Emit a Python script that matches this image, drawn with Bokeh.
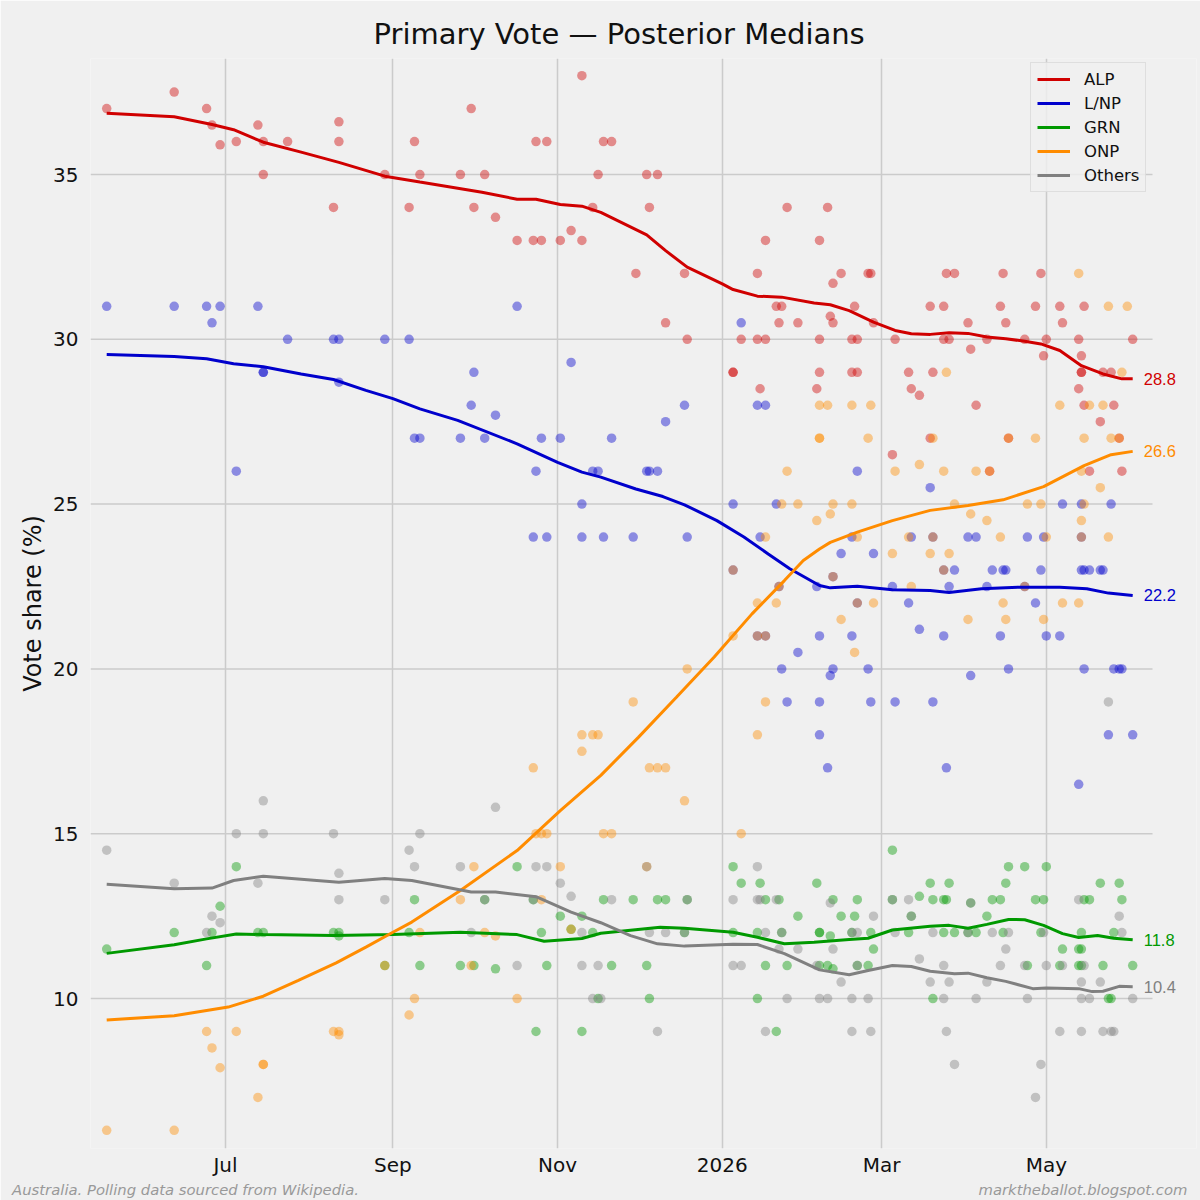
import pandas as pd
from bokeh.plotting import figure
from bokeh.models import Range1d, FixedTicker, ColumnDataSource, LinearAxis
from bokeh.core.properties import value
from bokeh.embed import file_html
from bokeh.resources import INLINE

# ---------------- data ----------------
parties = ["ALP", "L/NP", "GRN", "ONP", "Others"]
line_colors = ["#d00000", "#0000cc", "#009900", "#ff8c00", "#808080"]

tick_dates = ["2025-07-01", "2025-09-01", "2025-11-01", "2026-01-01", "2026-03-01", "2026-05-01"]
tick_labels = ["Jul", "Sep", "Nov", "2026", "Mar", "May"]
y_ticks = [10, 15, 20, 25, 30, 35]

footer_left = "Australia. Polling data sourced from Wikipedia."
footer_right = "marktheballot.blogspot.com"

# posterior median lines (date, value)
alp_line = [("2025-05-18", 36.86), ("2025-06-12", 36.75), ("2025-06-26", 36.52), ("2025-07-04", 36.36),
            ("2025-07-15", 35.98), ("2025-07-29", 35.68), ("2025-08-12", 35.37), ("2025-08-29", 34.95),
            ("2025-09-11", 34.77), ("2025-10-04", 34.46), ("2025-10-17", 34.25), ("2025-10-24", 34.25),
            ("2025-11-02", 34.09), ("2025-11-10", 34.04), ("2025-11-17", 33.85), ("2025-12-04", 33.17),
            ("2025-12-11", 32.69), ("2025-12-19", 32.19), ("2026-01-01", 31.68), ("2026-01-05", 31.51),
            ("2026-01-14", 31.31), ("2026-01-23", 31.28), ("2026-02-04", 31.10), ("2026-02-10", 31.05),
            ("2026-02-17", 30.87), ("2026-02-26", 30.52), ("2026-03-06", 30.27), ("2026-03-12", 30.17),
            ("2026-03-19", 30.15), ("2026-03-26", 30.20), ("2026-04-02", 30.18), ("2026-04-09", 30.07),
            ("2026-04-16", 30.02), ("2026-04-23", 29.94), ("2026-04-29", 29.86), ("2026-05-06", 29.66),
            ("2026-05-14", 29.20), ("2026-05-22", 28.95), ("2026-05-29", 28.80), ("2026-06-02", 28.80)]
lnp_line = [("2025-05-18", 29.54), ("2025-06-12", 29.48), ("2025-06-24", 29.41), ("2025-07-04", 29.26),
            ("2025-07-15", 29.17), ("2025-07-29", 28.95), ("2025-08-10", 28.78), ("2025-08-22", 28.45),
            ("2025-09-01", 28.20), ("2025-09-11", 27.89), ("2025-09-25", 27.54), ("2025-10-17", 26.83),
            ("2025-11-01", 26.27), ("2025-11-10", 25.97), ("2025-11-17", 25.82), ("2025-11-30", 25.46),
            ("2025-12-10", 25.23), ("2025-12-18", 24.98), ("2025-12-30", 24.50), ("2026-01-09", 24.00),
            ("2026-01-18", 23.49), ("2026-01-26", 23.04), ("2026-02-06", 22.53), ("2026-02-10", 22.46),
            ("2026-02-20", 22.51), ("2026-03-05", 22.40), ("2026-03-19", 22.38), ("2026-03-26", 22.32),
            ("2026-04-07", 22.43), ("2026-04-21", 22.48), ("2026-05-06", 22.48), ("2026-05-16", 22.43),
            ("2026-05-24", 22.30), ("2026-06-02", 22.23)]
grn_line = [("2025-05-18", 11.37), ("2025-06-12", 11.63), ("2025-06-24", 11.81), ("2025-07-05", 11.96),
            ("2025-07-15", 11.94), ("2025-08-10", 11.91), ("2025-09-01", 11.94), ("2025-09-26", 12.01),
            ("2025-10-17", 11.94), ("2025-10-27", 11.74), ("2025-11-10", 11.82), ("2025-11-17", 11.98),
            ("2025-12-09", 12.16), ("2025-12-18", 12.13), ("2026-01-05", 12.01), ("2026-01-14", 11.86),
            ("2026-01-24", 11.66), ("2026-02-04", 11.71), ("2026-02-17", 11.79), ("2026-02-24", 11.83),
            ("2026-03-05", 12.08), ("2026-03-19", 12.19), ("2026-03-26", 12.22), ("2026-04-02", 12.13),
            ("2026-04-09", 12.25), ("2026-04-17", 12.40), ("2026-04-23", 12.39), ("2026-04-30", 12.22),
            ("2026-05-07", 11.97), ("2026-05-13", 11.85), ("2026-05-20", 11.91), ("2026-05-26", 11.83),
            ("2026-06-02", 11.78)]
onp_line = [("2025-05-18", 9.35), ("2025-06-12", 9.48), ("2025-07-02", 9.74), ("2025-07-15", 10.07),
            ("2025-07-28", 10.55), ("2025-08-11", 11.08), ("2025-08-22", 11.56), ("2025-09-01", 12.01),
            ("2025-09-08", 12.32), ("2025-09-26", 13.28), ("2025-10-17", 14.49), ("2025-11-02", 15.70),
            ("2025-11-17", 16.77), ("2025-12-01", 17.93), ("2025-12-15", 19.14), ("2025-12-29", 20.36),
            ("2026-01-12", 21.67), ("2026-01-24", 22.68), ("2026-01-31", 23.29), ("2026-02-06", 23.64),
            ("2026-02-10", 23.84), ("2026-02-20", 24.15), ("2026-03-05", 24.50), ("2026-03-19", 24.81),
            ("2026-04-02", 24.96), ("2026-04-15", 25.13), ("2026-04-30", 25.53), ("2026-05-15", 26.17),
            ("2026-05-25", 26.50), ("2026-06-02", 26.60)]
oth_line = [("2025-05-18", 13.47), ("2025-06-12", 13.33), ("2025-06-26", 13.35), ("2025-07-04", 13.58),
            ("2025-07-15", 13.71), ("2025-08-12", 13.53), ("2025-08-29", 13.64), ("2025-09-08", 13.58),
            ("2025-09-30", 13.23), ("2025-10-09", 13.23), ("2025-10-24", 13.09), ("2025-11-06", 12.62),
            ("2025-11-17", 12.30), ("2025-11-28", 11.91), ("2025-12-08", 11.66), ("2025-12-18", 11.59),
            ("2026-01-05", 11.65), ("2026-01-14", 11.64), ("2026-01-24", 11.36), ("2026-02-06", 10.87),
            ("2026-02-17", 10.72), ("2026-02-24", 10.85), ("2026-03-05", 11.00), ("2026-03-12", 10.97),
            ("2026-03-19", 10.83), ("2026-03-28", 10.75), ("2026-04-02", 10.77), ("2026-04-09", 10.63),
            ("2026-04-16", 10.52), ("2026-04-26", 10.30), ("2026-05-01", 10.32), ("2026-05-13", 10.30),
            ("2026-05-18", 10.21), ("2026-05-22", 10.22), ("2026-05-28", 10.37), ("2026-06-02", 10.36)]

# individual polls (date, value)
alp_polls = [("2025-05-18", 37.0), ("2025-06-12", 37.5), ("2025-06-24", 37.0), ("2025-06-26", 36.5),
    ("2025-06-29", 35.9), ("2025-07-05", 36.0), ("2025-07-13", 36.5), ("2025-07-15", 36.0), ("2025-07-15", 35.0),
    ("2025-07-24", 36.0), ("2025-08-10", 34.0), ("2025-08-12", 36.6), ("2025-08-12", 36.0), ("2025-08-29", 35.0),
    ("2025-09-07", 34.0), ("2025-09-09", 36.0), ("2025-09-11", 35.0), ("2025-09-26", 35.0), ("2025-09-30", 37.0),
    ("2025-10-01", 34.0), ("2025-10-05", 35.0), ("2025-10-09", 33.7), ("2025-10-17", 33.0), ("2025-10-23", 33.0),
    ("2025-10-24", 36.0), ("2025-10-26", 33.0), ("2025-10-28", 36.0), ("2025-11-02", 33.0), ("2025-11-06", 33.3),
    ("2025-11-10", 38.0), ("2025-11-10", 33.0), ("2025-11-14", 34.0), ("2025-11-16", 35.0), ("2025-11-18", 36.0),
    ("2025-11-21", 36.0), ("2025-11-30", 32.0), ("2025-12-04", 35.0), ("2025-12-05", 34.0), ("2025-12-08", 35.0),
    ("2025-12-11", 30.5), ("2025-12-18", 32.0), ("2025-12-19", 30.0), ("2026-01-05", 29.0), ("2026-01-05", 29.0),
    ("2026-01-08", 30.0), ("2026-01-14", 32.0), ("2026-01-14", 30.0), ("2026-01-15", 28.5), ("2026-01-17", 33.0),
    ("2026-01-17", 30.0), ("2026-01-21", 31.0), ("2026-01-22", 30.5), ("2026-01-23", 31.0), ("2026-01-25", 34.0),
    ("2026-01-29", 30.5), ("2026-02-05", 28.5), ("2026-02-06", 33.0), ("2026-02-06", 30.0), ("2026-02-06", 29.0),
    ("2026-02-09", 34.0), ("2026-02-10", 30.7), ("2026-02-11", 31.7), ("2026-02-11", 30.5), ("2026-02-14", 32.0),
    ("2026-02-18", 30.0), ("2026-02-18", 29.0), ("2026-02-19", 31.0), ("2026-02-20", 30.0), ("2026-02-20", 29.0),
    ("2026-02-24", 32.0), ("2026-02-25", 32.0), ("2026-02-26", 30.5), ("2026-03-05", 26.5), ("2026-03-06", 30.0),
    ("2026-03-11", 29.0), ("2026-03-12", 28.5), ("2026-03-15", 28.3), ("2026-03-19", 31.0), ("2026-03-19", 27.0),
    ("2026-03-20", 29.0), ("2026-03-24", 31.0), ("2026-03-24", 30.0), ("2026-03-25", 32.0), ("2026-03-26", 30.0),
    ("2026-03-28", 32.0), ("2026-04-02", 30.5), ("2026-04-03", 29.7), ("2026-04-05", 28.0), ("2026-04-09", 30.0),
    ("2026-04-10", 26.0), ("2026-04-14", 31.0), ("2026-04-15", 32.0), ("2026-04-16", 30.5), ("2026-04-17", 27.0),
    ("2026-04-23", 30.0), ("2026-04-27", 31.0), ("2026-04-29", 32.0), ("2026-04-30", 29.5), ("2026-05-01", 30.0),
    ("2026-05-06", 31.0), ("2026-05-07", 30.5), ("2026-05-13", 30.0), ("2026-05-13", 28.5), ("2026-05-14", 29.5),
    ("2026-05-14", 29.0), ("2026-05-14", 29.0), ("2026-05-15", 31.0), ("2026-05-15", 28.0), ("2026-05-17", 26.0),
    ("2026-05-21", 27.5), ("2026-05-22", 29.0), ("2026-05-25", 29.0), ("2026-05-26", 28.0), ("2026-05-28", 27.0),
    ("2026-05-29", 26.0), ("2026-06-02", 30.0)]
lnp_polls = [("2025-05-18", 31.0), ("2025-06-12", 31.0), ("2025-06-24", 31.0), ("2025-06-26", 30.5),
    ("2025-06-29", 31.0), ("2025-07-05", 26.0), ("2025-07-13", 31.0), ("2025-07-15", 29.0), ("2025-07-15", 29.0),
    ("2025-07-24", 30.0), ("2025-08-10", 30.0), ("2025-08-12", 30.0), ("2025-08-12", 28.7), ("2025-08-29", 30.0),
    ("2025-09-07", 30.0), ("2025-09-09", 27.0), ("2025-09-11", 27.0), ("2025-09-26", 27.0), ("2025-09-30", 28.0),
    ("2025-10-01", 29.0), ("2025-10-05", 27.0), ("2025-10-09", 27.7), ("2025-10-17", 31.0), ("2025-10-23", 24.0),
    ("2025-10-24", 26.0), ("2025-10-26", 27.0), ("2025-10-28", 24.0), ("2025-11-02", 27.0), ("2025-11-06", 29.3),
    ("2025-11-10", 25.0), ("2025-11-10", 24.0), ("2025-11-14", 26.0), ("2025-11-16", 26.0), ("2025-11-18", 24.0),
    ("2025-11-21", 27.0), ("2025-11-29", 24.0), ("2025-12-04", 26.0), ("2025-12-05", 26.0), ("2025-12-08", 26.0),
    ("2025-12-11", 27.5), ("2025-12-18", 28.0), ("2025-12-19", 24.0), ("2026-01-05", 25.0), ("2026-01-05", 23.0),
    ("2026-01-08", 30.5), ("2026-01-14", 28.0), ("2026-01-14", 21.0), ("2026-01-15", 24.0), ("2026-01-17", 28.0),
    ("2026-01-17", 21.0), ("2026-01-21", 25.0), ("2026-01-22", 22.5), ("2026-01-23", 20.0), ("2026-01-25", 19.0),
    ("2026-01-29", 20.5), ("2026-02-05", 22.5), ("2026-02-06", 21.0), ("2026-02-06", 19.0), ("2026-02-06", 18.0),
    ("2026-02-09", 17.0), ("2026-02-10", 19.8), ("2026-02-11", 20.0), ("2026-02-11", 22.8), ("2026-02-14", 23.5),
    ("2026-02-18", 24.0), ("2026-02-18", 21.0), ("2026-02-20", 26.0), ("2026-02-20", 22.0), ("2026-02-24", 20.0),
    ("2026-02-25", 19.0), ("2026-02-26", 23.5), ("2026-03-05", 22.5), ("2026-03-06", 19.0), ("2026-03-11", 22.0),
    ("2026-03-12", 24.0), ("2026-03-15", 21.2), ("2026-03-19", 25.5), ("2026-03-20", 24.0), ("2026-03-20", 19.0),
    ("2026-03-24", 23.0), ("2026-03-24", 21.0), ("2026-03-25", 17.0), ("2026-03-26", 22.5), ("2026-03-28", 23.0),
    ("2026-04-02", 24.0), ("2026-04-03", 19.8), ("2026-04-05", 24.0), ("2026-04-09", 22.5), ("2026-04-11", 23.0),
    ("2026-04-14", 21.0), ("2026-04-15", 23.0), ("2026-04-16", 23.0), ("2026-04-17", 20.0), ("2026-04-23", 22.5),
    ("2026-04-24", 24.0), ("2026-04-27", 22.0), ("2026-04-29", 23.0), ("2026-04-30", 24.0), ("2026-05-01", 21.0),
    ("2026-05-06", 21.0), ("2026-05-07", 25.0), ("2026-05-14", 24.0), ("2026-05-13", 16.5), ("2026-05-14", 25.0),
    ("2026-05-14", 23.0), ("2026-05-15", 23.0), ("2026-05-15", 20.0), ("2026-05-17", 23.0), ("2026-05-21", 23.0),
    ("2026-05-22", 23.0), ("2026-05-24", 18.0), ("2026-05-25", 25.0), ("2026-05-26", 20.0), ("2026-05-28", 20.0),
    ("2026-05-29", 20.0), ("2026-06-02", 18.0)]
grn_polls = [("2025-05-18", 11.5), ("2025-06-12", 12.0), ("2025-06-24", 11.0), ("2025-06-26", 12.0),
    ("2025-06-29", 12.8), ("2025-07-05", 14.0), ("2025-07-13", 12.0), ("2025-07-15", 12.0), ("2025-08-10", 12.0),
    ("2025-08-12", 12.0), ("2025-08-12", 11.9), ("2025-08-29", 11.0), ("2025-09-07", 12.0), ("2025-09-09", 13.0),
    ("2025-09-11", 11.0), ("2025-09-26", 11.0), ("2025-10-01", 11.0), ("2025-10-05", 13.0), ("2025-10-09", 10.9),
    ("2025-10-17", 14.0), ("2025-10-23", 13.0), ("2025-10-24", 9.0), ("2025-10-26", 12.0), ("2025-10-28", 11.0),
    ("2025-11-02", 12.5), ("2025-11-06", 12.1), ("2025-11-10", 12.5), ("2025-11-10", 9.0), ("2025-11-14", 12.0),
    ("2025-11-16", 10.0), ("2025-11-18", 13.0), ("2025-11-21", 11.0), ("2025-11-29", 13.0), ("2025-12-04", 11.0),
    ("2025-12-05", 10.0), ("2025-12-08", 13.0), ("2025-12-11", 13.0), ("2025-12-18", 12.0), ("2025-12-19", 13.0),
    ("2026-01-05", 14.0), ("2026-01-05", 12.0), ("2026-01-08", 13.5), ("2026-01-14", 12.0), ("2026-01-14", 10.0),
    ("2026-01-15", 13.5), ("2026-01-17", 13.0), ("2026-01-17", 11.0), ("2026-01-21", 9.0), ("2026-01-22", 13.0),
    ("2026-01-23", 12.0), ("2026-01-25", 11.0), ("2026-01-29", 12.5), ("2026-02-05", 13.5), ("2026-02-06", 12.0),
    ("2026-02-06", 12.0), ("2026-02-06", 11.0), ("2026-02-09", 11.0), ("2026-02-10", 11.9), ("2026-02-11", 13.0),
    ("2026-02-11", 10.9), ("2026-02-14", 12.5), ("2026-02-18", 12.0), ("2026-02-19", 12.5), ("2026-02-20", 13.0),
    ("2026-02-20", 11.0), ("2026-02-24", 11.0), ("2026-02-25", 12.0), ("2026-02-26", 11.5), ("2026-03-05", 14.5),
    ("2026-03-05", 13.0), ("2026-03-11", 12.0), ("2026-03-12", 12.5), ("2026-03-15", 13.1), ("2026-03-19", 13.5),
    ("2026-03-20", 13.0), ("2026-03-20", 10.0), ("2026-03-24", 13.0), ("2026-03-24", 12.0), ("2026-03-25", 13.0),
    ("2026-03-26", 13.5), ("2026-03-28", 12.0), ("2026-04-02", 12.0), ("2026-04-03", 12.9), ("2026-04-05", 12.0),
    ("2026-04-09", 12.5), ("2026-04-11", 13.0), ("2026-04-14", 13.0), ("2026-04-15", 12.0), ("2026-04-16", 13.5),
    ("2026-04-17", 14.0), ("2026-04-23", 14.0), ("2026-04-24", 11.0), ("2026-04-27", 13.0), ("2026-04-29", 12.0),
    ("2026-04-30", 13.0), ("2026-05-01", 14.0), ("2026-05-06", 11.0), ("2026-05-07", 11.5), ("2026-05-13", 11.5),
    ("2026-05-13", 11.0), ("2026-05-14", 11.5), ("2026-05-14", 11.0), ("2026-05-14", 12.0), ("2026-05-15", 13.0),
    ("2026-05-17", 13.0), ("2026-05-21", 13.5), ("2026-05-22", 11.0), ("2026-05-24", 10.0), ("2026-05-25", 10.0),
    ("2026-05-26", 12.0), ("2026-05-28", 13.5), ("2026-05-29", 13.0), ("2026-06-02", 11.0)]
onp_polls = [("2025-05-18", 6.0), ("2025-06-12", 6.0), ("2025-06-24", 9.0), ("2025-06-26", 8.5),
    ("2025-06-29", 7.9), ("2025-07-05", 9.0), ("2025-07-13", 7.0), ("2025-07-15", 8.0), ("2025-07-15", 8.0),
    ("2025-08-10", 9.0), ("2025-08-12", 9.0), ("2025-08-12", 8.9), ("2025-08-29", 11.0), ("2025-09-07", 9.5),
    ("2025-09-09", 10.0), ("2025-09-11", 12.0), ("2025-09-26", 13.0), ("2025-09-30", 11.0), ("2025-10-01", 14.0),
    ("2025-10-05", 12.0), ("2025-10-09", 11.9), ("2025-10-17", 10.0), ("2025-10-23", 17.0), ("2025-10-24", 15.0),
    ("2025-10-26", 15.0), ("2025-10-26", 13.0), ("2025-10-28", 15.0), ("2025-11-02", 14.0), ("2025-11-06", 12.1),
    ("2025-11-10", 18.0), ("2025-11-10", 17.5), ("2025-11-14", 18.0), ("2025-11-16", 18.0), ("2025-11-18", 15.0),
    ("2025-11-21", 15.0), ("2025-11-29", 19.0), ("2025-12-04", 14.0), ("2025-12-05", 17.0), ("2025-12-08", 17.0),
    ("2025-12-11", 17.0), ("2025-12-18", 16.0), ("2025-12-19", 20.0), ("2026-01-05", 21.0), ("2026-01-05", 23.0),
    ("2026-01-08", 15.0), ("2026-01-14", 22.0), ("2026-01-14", 18.0), ("2026-01-14", 21.0), ("2026-01-17", 24.0),
    ("2026-01-17", 19.0), ("2026-01-17", 21.0), ("2026-01-21", 22.0), ("2026-01-22", 22.5), ("2026-01-23", 25.0),
    ("2026-01-25", 26.0), ("2026-01-29", 25.0), ("2026-02-05", 24.5), ("2026-02-06", 28.0), ("2026-02-06", 27.0),
    ("2026-02-06", 27.0), ("2026-02-09", 28.0), ("2026-02-10", 24.7), ("2026-02-11", 25.0), ("2026-02-11", 22.8),
    ("2026-02-14", 21.5), ("2026-02-18", 28.0), ("2026-02-18", 25.0), ("2026-02-19", 20.5), ("2026-02-20", 24.0),
    ("2026-02-20", 22.0), ("2026-02-24", 27.0), ("2026-02-25", 28.0), ("2026-02-26", 22.0), ("2026-03-05", 23.5),
    ("2026-03-06", 26.0), ("2026-03-11", 24.0), ("2026-03-12", 22.5), ("2026-03-15", 26.2), ("2026-03-19", 23.5),
    ("2026-03-20", 27.0), ("2026-03-20", 24.0), ("2026-03-24", 26.0), ("2026-03-24", 23.0), ("2026-03-25", 29.0),
    ("2026-03-26", 23.5), ("2026-03-28", 25.0), ("2026-04-02", 21.5), ("2026-04-03", 24.7), ("2026-04-05", 26.0),
    ("2026-04-09", 24.5), ("2026-04-10", 26.0), ("2026-04-14", 24.0), ("2026-04-15", 22.0), ("2026-04-16", 21.5),
    ("2026-04-17", 27.0), ("2026-04-23", 22.5), ("2026-04-24", 25.0), ("2026-04-27", 27.0), ("2026-04-29", 25.0),
    ("2026-04-30", 21.5), ("2026-05-01", 24.0), ("2026-05-06", 28.0), ("2026-05-07", 22.0), ("2026-05-13", 32.0),
    ("2026-05-13", 22.0), ("2026-05-14", 24.5), ("2026-05-14", 24.0), ("2026-05-14", 26.0), ("2026-05-15", 25.0),
    ("2026-05-15", 27.0), ("2026-05-17", 28.0), ("2026-05-21", 25.5), ("2026-05-22", 28.0), ("2026-05-24", 31.0),
    ("2026-05-24", 24.0), ("2026-05-25", 27.0), ("2026-05-28", 27.0), ("2026-05-29", 29.0), ("2026-05-31", 31.0)]
oth_polls = [("2025-05-18", 14.5), ("2025-06-12", 13.5), ("2025-06-24", 12.0), ("2025-06-26", 12.5),
    ("2025-06-29", 12.3), ("2025-07-05", 15.0), ("2025-07-13", 13.5), ("2025-07-15", 16.0), ("2025-07-15", 15.0),
    ("2025-08-10", 15.0), ("2025-08-12", 13.8), ("2025-08-12", 13.0), ("2025-08-29", 13.0), ("2025-09-07", 14.5),
    ("2025-09-09", 14.0), ("2025-09-11", 15.0), ("2025-09-26", 14.0), ("2025-09-30", 12.0), ("2025-10-05", 13.0),
    ("2025-10-09", 15.8), ("2025-10-17", 11.0), ("2025-10-23", 13.0), ("2025-10-24", 14.0), ("2025-10-28", 14.0),
    ("2025-11-02", 13.5), ("2025-11-06", 13.1), ("2025-11-10", 12.0), ("2025-11-10", 11.0), ("2025-11-14", 10.0),
    ("2025-11-16", 11.0), ("2025-11-17", 10.0), ("2025-11-21", 13.0), ("2025-12-04", 14.0), ("2025-12-05", 12.0),
    ("2025-12-08", 9.0), ("2025-12-11", 12.0), ("2025-12-18", 12.0), ("2025-12-19", 13.0), ("2026-01-05", 13.0),
    ("2026-01-05", 11.0), ("2026-01-08", 11.0), ("2026-01-14", 14.0), ("2026-01-14", 13.0), ("2026-01-15", 13.0),
    ("2026-01-17", 12.0), ("2026-01-17", 9.0), ("2026-01-21", 13.0), ("2026-01-22", 11.5), ("2026-01-23", 12.0),
    ("2026-01-25", 10.0), ("2026-01-29", 11.5), ("2026-02-05", 11.0), ("2026-02-06", 10.0), ("2026-02-09", 10.0),
    ("2026-02-10", 12.9), ("2026-02-11", 11.5), ("2026-02-14", 10.5), ("2026-02-18", 12.0), ("2026-02-18", 10.0),
    ("2026-02-18", 9.0), ("2026-02-20", 12.0), ("2026-02-20", 11.0), ("2026-02-24", 10.0), ("2026-02-25", 9.0),
    ("2026-02-26", 12.5), ("2026-03-05", 13.0), ("2026-03-06", 12.0), ("2026-03-11", 13.0), ("2026-03-12", 12.5),
    ("2026-03-15", 11.2), ("2026-03-19", 10.5), ("2026-03-20", 12.0), ("2026-03-24", 11.0), ("2026-03-24", 10.0),
    ("2026-03-25", 9.0), ("2026-03-26", 10.5), ("2026-03-28", 8.0), ("2026-04-02", 12.0), ("2026-04-03", 12.9),
    ("2026-04-05", 10.0), ("2026-04-09", 10.5), ("2026-04-11", 12.0), ("2026-04-14", 11.0), ("2026-04-16", 11.5),
    ("2026-04-17", 12.0), ("2026-04-23", 11.0), ("2026-04-24", 10.0), ("2026-04-27", 7.0), ("2026-04-29", 8.0),
    ("2026-04-30", 12.0), ("2026-05-01", 11.0), ("2026-05-06", 9.0), ("2026-05-07", 11.0), ("2026-05-13", 13.0),
    ("2026-05-14", 10.5), ("2026-05-14", 10.0), ("2026-05-14", 9.0), ("2026-05-15", 11.0), ("2026-05-17", 10.0),
    ("2026-05-21", 10.5), ("2026-05-22", 9.0), ("2026-05-24", 19.0), ("2026-05-25", 9.0), ("2026-05-26", 9.0),
    ("2026-05-28", 12.5), ("2026-05-29", 12.0), ("2026-06-02", 10.0)]

lines = [alp_line, lnp_line, grn_line, onp_line, oth_line]
polls = [alp_polls, lnp_polls, grn_polls, onp_polls, oth_polls]

# ---------------- figure ----------------
BG = "#f0f0f0"
GRID = "#cbcbcb"
FONT = "DejaVu Sans"
X_START = pd.Timestamp("2025-05-12")
X_GRID_END = pd.Timestamp("2026-06-09 08:00")   # where the horizontal grid stops
X_END = pd.Timestamp("2026-06-25 15:07")        # extra room on the right for the end labels
Y_START, Y_END = 5.45, 38.52
B_LEFT, B_TOP = 90, 58
FRAME_W, FRAME_H = 1106, 1090

p = figure(width=1200, height=1200, x_axis_type="datetime",
           x_range=Range1d(X_START, X_END), y_range=Range1d(Y_START, Y_END),
           output_backend="svg", toolbar_location=None,
           min_border_left=B_LEFT, min_border_right=1200 - B_LEFT - FRAME_W,
           min_border_top=B_TOP, min_border_bottom=1200 - B_TOP - FRAME_H,
           background_fill_color=BG, border_fill_color=BG, outline_line_color=None)

p.title.text = "Primary Vote \u2014 Posterior Medians"
p.title.text_font = FONT
p.title.text_font_size = "29px"
p.title.text_font_style = "normal"
p.title.text_color = "#111111"
p.title.align = "left"
p.title.offset = 283
p.title.standoff = 15

def to_ms(d):
    return pd.Timestamp(d).value / 1e6

def strip_axis(ax):
    ax.axis_line_color = None
    ax.major_tick_line_color = None
    ax.minor_tick_line_color = None
    ax.major_tick_in = 0
    ax.major_tick_out = 0
    ax.minor_tick_in = 0
    ax.minor_tick_out = 0

tick_ms = [int(to_ms(d)) for d in tick_dates]
p.xaxis.ticker = FixedTicker(ticks=tick_ms)
p.xaxis.major_label_overrides = {t: lab for t, lab in zip(tick_ms, tick_labels)}
p.yaxis.ticker = FixedTicker(ticks=y_ticks)

for ax in (p.xaxis[0], p.yaxis[0]):
    strip_axis(ax)
    ax.major_label_text_font = FONT
    ax.major_label_text_font_size = "20px"
    ax.major_label_text_color = "#111111"
p.xaxis.major_label_standoff = 4
p.yaxis.major_label_standoff = 12
p.yaxis.axis_label = "Vote share (%)"
p.yaxis.axis_label_text_font = FONT
p.yaxis.axis_label_text_font_size = "24px"
p.yaxis.axis_label_text_font_style = "normal"
p.yaxis.axis_label_text_color = "#111111"
p.yaxis.axis_label_standoff = 3

p.xgrid.grid_line_color = GRID
p.xgrid.grid_line_width = 1.5
p.ygrid.grid_line_color = None
# horizontal grid lines stop where the reference's axes area ends
p.segment(x0=[X_START] * len(y_ticks), x1=[X_GRID_END] * len(y_ticks), y0=y_ticks, y1=y_ticks,
          line_color=GRID, line_width=1.5)

# polls
for party, col, pts in zip(parties, line_colors, polls):
    src = ColumnDataSource(dict(date=pd.to_datetime([d for d, _ in pts]), val=[v for _, v in pts]))
    p.scatter("date", "val", source=src, size=9.5, fill_color=col, fill_alpha=0.42, line_color=None)

# lines
for party, col, ln in zip(parties, line_colors, lines):
    src = ColumnDataSource(dict(date=pd.to_datetime([d for d, _ in ln]), val=[v for _, v in ln]))
    p.line("date", "val", source=src, line_color=col, line_width=3, legend_label=party)

# end-of-line value labels
end_src = ColumnDataSource(dict(
    date=pd.to_datetime([ln[-1][0] for ln in lines]),
    val=[ln[-1][1] for ln in lines],
    label=[f"{ln[-1][1]:.1f}" for ln in lines],
    color=line_colors))
p.text("date", "val", text="label", source=end_src, x_offset=11, text_color="color",
       text_font=value("Liberation Sans"), text_font_size="16.5px",
       text_baseline="middle", text_align="left")

lg = p.legend[0]
lg.location = (940, 956)
lg.padding = 6
lg.spacing = 4
lg.label_height = 20
lg.glyph_height = 20
lg.glyph_width = 33
lg.label_standoff = 14
lg.label_text_font = FONT
lg.label_text_font_size = "16.5px"
lg.label_text_color = "#111111"
lg.background_fill_color = BG
lg.background_fill_alpha = 0.8
lg.border_line_color = "#cccccc"
lg.border_line_width = 1

# footer texts, laid out as the labels of a second, bare axis below the date axis
foot_at = [int(to_ms("2025-06-16 05:00")), int(to_ms("2026-05-14 14:00"))]
foot_ax = LinearAxis(ticker=FixedTicker(ticks=foot_at),
                     major_label_overrides={foot_at[0]: footer_left, foot_at[1]: footer_right})
strip_axis(foot_ax)
foot_ax.major_label_standoff = 1
foot_ax.major_label_text_font = FONT
foot_ax.major_label_text_font_style = "italic"
foot_ax.major_label_text_font_size = "14.8px"
foot_ax.major_label_text_color = "#999999"
p.add_layout(foot_ax, "below")

html = file_html(p, INLINE, title="Primary Vote")
html = html.replace("<body>", '<body style="background-color:#f0f0f0;">', 1)
open("out.html", "w").write(html)
